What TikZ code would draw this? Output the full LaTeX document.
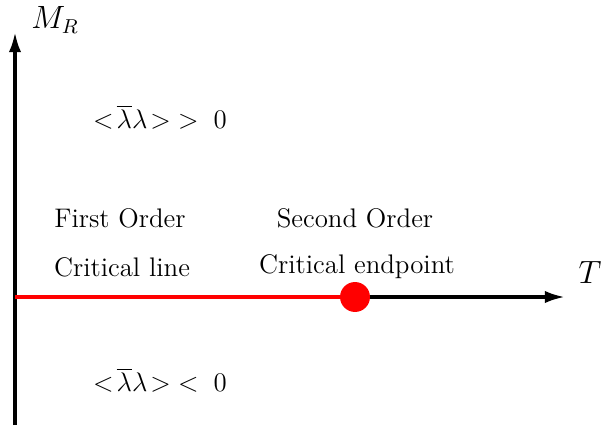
\documentclass[tikz,border=0pt]{standalone}
\usepackage{amsmath}
\usepackage{xcolor}
\usetikzlibrary{arrows.meta, positioning}
\tikzset{
    phasediagram/.style={>={Latex[length=9pt,width=5.5pt]}, x=0.0157cm, y=-0.0157cm,
        font=\large},
    axis/.style={line width=1.5pt, ->},
    critline/.style={red, line width=1.5pt},
    endpoint/.style={circle, fill=red, minimum size=0.47cm, inner sep=0pt},
    label/.style={align=center},
    axislabel/.style={font=\fontsize{13.5}{16}\selectfont},
}

\begin{document}
\begin{tikzpicture}[phasediagram]
        \useasboundingbox (0,0) rectangle (603,425);
        \coordinate (o)    at (15,297);
        \coordinate (bot)  at (15,425);
        \coordinate (ytip) at (15,32);
        \coordinate (xtip) at (565,297);

        \node[axislabel] (mr) at (55,20) {$M_R$};
        \node[axislabel] (t)  at (590,272) {$T$};

        \node[label] (pos) at (160,117) {$<\!\overline{\lambda}\lambda\!>\;>\;0$};
        \node[label] (neg) at (160,380) {$<\!\overline{\lambda}\lambda\!>\;<\;0$};
        \node[label] (fo)  at (120,218) {First Order};
        \node[label] (cl)  at (122,267) {Critical line};
        \node[label] (so)  at (355,218) {Second Order};
        \node[label] (ce)  at (357,267) {Critical endpoint};

        % axes
        \draw[axis] (bot) -- (ytip);
        \draw[axis] (o) -- (xtip);

        % first order line
        \node[endpoint] (cep) at (355,297) {};
        \draw[critline] (o) -- (cep.west);
    \end{tikzpicture}
\end{document}
